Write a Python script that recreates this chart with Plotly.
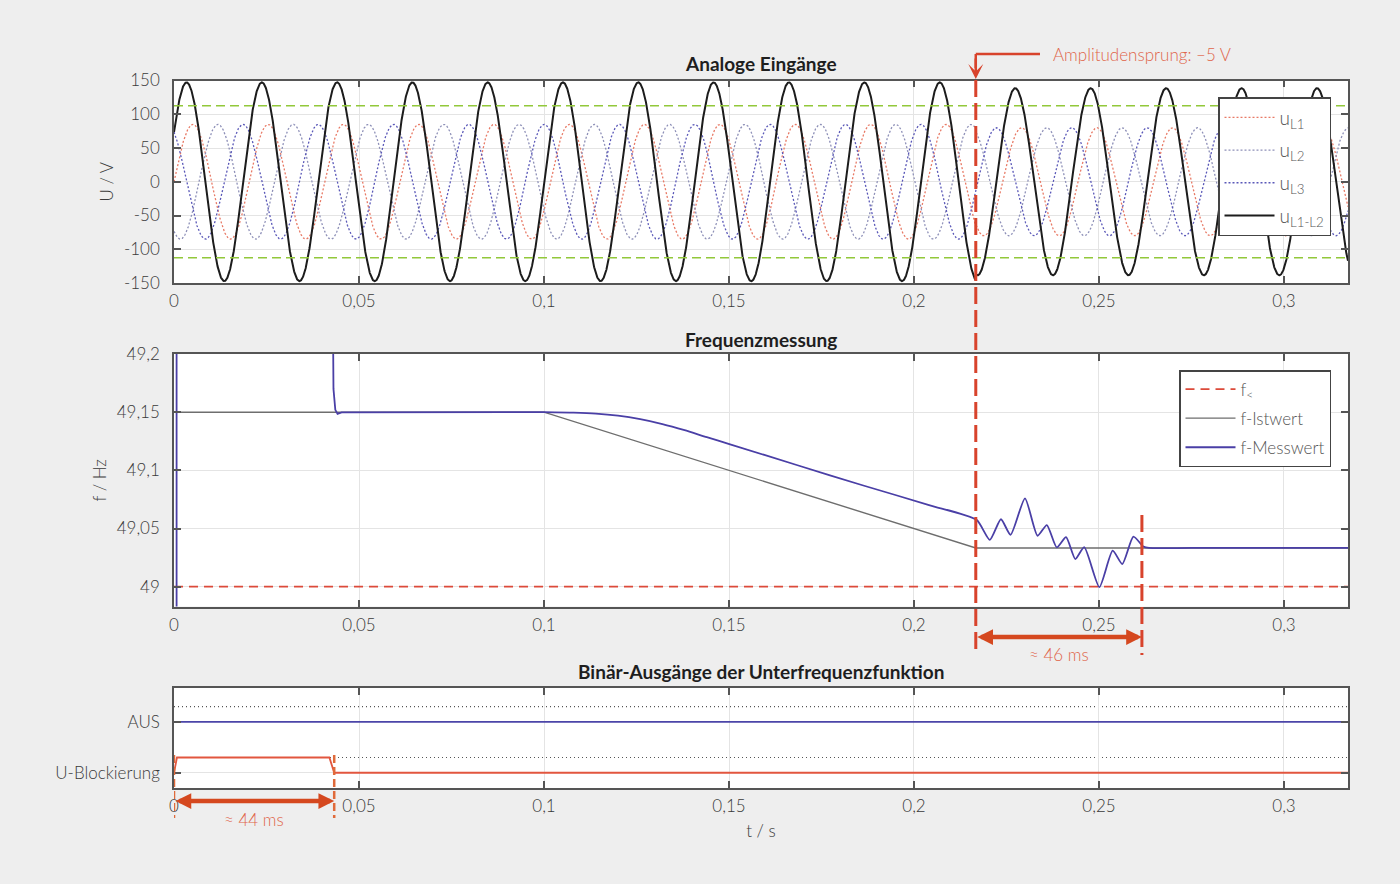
import numpy as np
import plotly.graph_objects as go

# ---------------- data ----------------
T_END = 0.3173
x_tickvals = [0, 0.05, 0.1, 0.15, 0.2, 0.25, 0.3]
x_ticktext = ["0", "0,05", "0,1", "0,15", "0,2", "0,25", "0,3"]

u_tickvals = [150, 100, 50, 0, -50, -100, -150]
u_ticktext = ["150", "100", "50", "0", "-50", "-100", "-150"]

f_tickvals = [49.2, 49.15, 49.1, 49.05, 49.0]
f_ticktext = ["49,2", "49,15", "49,1", "49,05", "49"]

bin_tickvals = [1, 0]
bin_ticktext = ["AUS", "U-Blockierung"]

# true frequency (f-Istwert) breakpoints
f_ist_t = [0, 0.1, 0.2167, T_END]
f_ist_v = [49.15, 49.15, 49.0333, 49.0333]

# phase voltage amplitude before / after the amplitude step
jump_time = 0.2167
amp_before = 85.0
amp_after = 80.0
u_threshold = [112.5, -112.5]

# frequency limit f<
f_lim_t = [0, T_END]
f_lim_v = [49.0, 49.0]

f_mess_start_t = [0.0007, 0.0007, 0.0428, 0.0431, 0.0436, 0.0442, 0.0453, 0.1]
f_mess_start_v = [48.90, 49.30, 49.30, 49.17, 49.152, 49.1485, 49.1498, 49.15]
f_mess_t = [0.100, 0.108, 0.114, 0.120, 0.126, 0.132, 0.138, 0.144, 0.1503,
            0.1683, 0.1863, 0.2043, 0.2169,
            0.2205, 0.2235, 0.2261, 0.2300, 0.2334, 0.2359, 0.2386, 0.2411, 0.2436,
            0.2460, 0.2501, 0.2537, 0.2563, 0.2593, 0.2620, 0.2635, 0.275, T_END]
f_mess_v = [49.1500, 49.1496, 49.1488, 49.1470, 49.1440, 49.1398, 49.1345, 49.1285, 49.1224,
            49.1046, 49.0870, 49.0700, 49.0575,
            49.0403, 49.058, 49.0446, 49.076, 49.0438, 49.053, 49.0338, 49.0426, 49.0238,
            49.034, 48.9997, 49.031, 49.0195, 49.043, 49.0346, 49.0333, 49.0333, 49.0333]

# binary outputs
aus_t = [0, T_END]
aus_v = [1, 1]
ublk_t = [0, 0.0008, 0.0420, 0.0433, T_END]
ublk_v = [0, 0.3, 0.3, 0, 0]
bin_high_levels = [1.3, 0.3]

# annotation times
t_jump = 0.2167
t_settle = 0.2616
t_block_end = 0.0433

# ---------------- waveforms from the frequency profile ----------------
t = np.linspace(0, T_END, 6000)
f_t = np.interp(t, f_ist_t, f_ist_v)
phase = 2 * np.pi * np.concatenate([[0], np.cumsum(0.5 * (f_t[1:] + f_t[:-1]) * np.diff(t))])
amp = np.where(t < jump_time, amp_before, amp_after)
u1 = amp * np.sin(phase)
u2 = amp * np.sin(phase - 2 * np.pi / 3)
u3 = amp * np.sin(phase + 2 * np.pi / 3)
u12 = u1 - u2

# ---------------- layout helpers ----------------
W, H = 1400, 884
def py(p):
    return 1 - p / H
def px(p):
    return p / W

FONT = "Lato"
TXT = "#3a3a3a"
RED = "#d8432c"
RED_TXT = "#e0654a"
XDOM = [px(174), px(1348)]

fig = go.Figure()

# top panel
fig.add_trace(go.Scatter(x=t, y=u1, mode="lines", name="u<sub>L1</sub>",
                         line=dict(color="#e87a66", width=1.3, dash="2px,2px"),
                         xaxis="x", yaxis="y", legend="legend", legendgroup="a"))
fig.add_trace(go.Scatter(x=t, y=u2, mode="lines", name="u<sub>L2</sub>",
                         line=dict(color="#8e90b8", width=1.3, dash="2px,2px"),
                         xaxis="x", yaxis="y", legend="legend", legendgroup="b"))
fig.add_trace(go.Scatter(x=t, y=u3, mode="lines", name="u<sub>L3</sub>",
                         line=dict(color="#5a58b8", width=1.3, dash="2px,2px"),
                         xaxis="x", yaxis="y", legend="legend", legendgroup="c"))
fig.add_trace(go.Scatter(x=t, y=u12, mode="lines", name="u<sub>L1-L2</sub>",
                         line=dict(color="#1c1c1c", width=2),
                         xaxis="x", yaxis="y", legend="legend", legendgroup="d"))

# middle panel
fig.add_trace(go.Scatter(x=f_lim_t, y=f_lim_v, mode="lines", name="f<sub>&lt;</sub>",
                         line=dict(color="#dc4a3a", width=1.8, dash="9px,6px"),
                         xaxis="x2", yaxis="y2", legend="legend2", legendgroup="lim"))
fig.add_trace(go.Scatter(x=f_ist_t, y=f_ist_v, mode="lines", name="f-Istwert",
                         line=dict(color="#6e6e6e", width=1.4),
                         xaxis="x2", yaxis="y2", legend="legend2", legendgroup="ist"))
fig.add_trace(go.Scatter(x=f_mess_start_t, y=f_mess_start_v, mode="lines", name="f-Messwert",
                         line=dict(color="#4a3fa6", width=1.8), legendgroup="mess",
                         xaxis="x2", yaxis="y2", legend="legend2"))
fig.add_trace(go.Scatter(x=f_mess_t, y=f_mess_v, mode="lines", name="f-Messwert",
                         line=dict(color="#4a3fa6", width=1.8, shape="spline", smoothing=0.6),
                         legendgroup="mess", showlegend=False,
                         xaxis="x2", yaxis="y2", legend="legend2"))

# bottom panel
fig.add_trace(go.Scatter(x=aus_t, y=aus_v, mode="lines", name="AUS",
                         line=dict(color="#4b45a8", width=1.8), showlegend=False,
                         xaxis="x3", yaxis="y3"))
fig.add_trace(go.Scatter(x=ublk_t, y=ublk_v, mode="lines", name="U-Blockierung",
                         line=dict(color="#e2563f", width=1.8), showlegend=False,
                         xaxis="x3", yaxis="y3"))

axis_common = dict(showline=True, linecolor="#555555", linewidth=1.5, mirror="ticks",
                   ticks="inside", ticklen=7, tickwidth=1.5, tickcolor="#555555",
                   showgrid=True, gridcolor="#e4e4e4", gridwidth=1, zeroline=False,
                   automargin=False,
                   tickfont=dict(family=FONT, size=17, color=TXT, weight=300))

xcommon = dict(axis_common, range=[0, T_END], tickvals=x_tickvals, ticktext=x_ticktext,
               domain=XDOM, ticklabelstandoff=2)

TITLE_FONT = dict(family=FONT, size=17, color=TXT, weight=300)
LEG_FONT = dict(family=FONT, size=17, color="#555555", weight=300)

fig.update_layout(
    width=W, height=H,
    margin=dict(l=0, r=0, t=0, b=0, autoexpand=False),
    paper_bgcolor="#eeeeee", plot_bgcolor="#ffffff",
    font=dict(family=FONT, size=17, color=TXT, weight=300),
    xaxis=dict(xcommon, anchor="y"),
    xaxis2=dict(xcommon, anchor="y2", matches="x"),
    xaxis3=dict(xcommon, anchor="y3", matches="x",
                title=dict(text="t / s", standoff=10, font=TITLE_FONT)),
    yaxis=dict(axis_common, anchor="x", domain=[py(283), py(80.5)], range=[-150, 150],
               tickvals=u_tickvals, ticktext=u_ticktext, ticklabelstandoff=9,
               title=dict(text="U / V", standoff=6, font=TITLE_FONT)),
    yaxis2=dict(axis_common, anchor="x2", domain=[py(606.5), py(354)], range=[48.983, 49.2],
                tickvals=f_tickvals, ticktext=f_ticktext, ticklabelstandoff=9,
                title=dict(text="f / Hz", standoff=6, font=TITLE_FONT)),
    yaxis3=dict(axis_common, anchor="x3", domain=[py(788), py(688)], range=[-0.3, 1.667],
                tickvals=bin_tickvals, ticktext=bin_ticktext, ticklabelstandoff=9),
    legend=dict(x=px(1331), y=py(97), xanchor="right", yanchor="top",
                bgcolor="#ffffff", bordercolor="#444444", borderwidth=1.5,
                font=dict(LEG_FONT, size=19),
                tracegroupgap=5, itemwidth=50),
    legend2=dict(x=px(1331), y=py(370), xanchor="right", yanchor="top",
                 bgcolor="#ffffff", bordercolor="#444444", borderwidth=1.5,
                 font=LEG_FONT, tracegroupgap=4, itemwidth=50),
    showlegend=True,
)

# threshold lines (green) in top panel
for thr in u_threshold:
    fig.add_shape(type="line", xref="x", yref="y", x0=0, x1=T_END, y0=thr, y1=thr,
                  line=dict(color="#92c83a", width=1.5, dash="9px,5px"), layer="above")

# high-level dotted lines in bottom panel
for lv in bin_high_levels:
    fig.add_shape(type="line", xref="x3", yref="y3", x0=0, x1=T_END, y0=lv, y1=lv,
                  line=dict(color="#555555", width=1.2, dash="1px,3px"), layer="below")

# panel titles
for text, ypx in [("Analoge Eingänge", 64), ("Frequenzmessung", 339),
                  ("Binär-Ausgänge der Unterfrequenzfunktion", 671)]:
    fig.add_annotation(text=text, x=(XDOM[0] + XDOM[1]) / 2, y=py(ypx), xref="paper", yref="paper",
                       showarrow=False, xanchor="center", yanchor="middle",
                       font=dict(family=FONT, size=19, color="#1e1e1e", weight=700))

# amplitude jump marker
DASH = "17px,6px"
fig.add_shape(type="line", xref="x", yref="paper", x0=t_jump, x1=t_jump, y0=py(80), y1=py(655),
              line=dict(color=RED, width=3, dash=DASH))
fig.add_shape(type="line", xref="x", yref="paper", x0=t_jump, x1=(1040 - 174) / 3700, y0=py(54), y1=py(54),
              line=dict(color=RED, width=2.5))
fig.add_shape(type="line", xref="x", yref="paper", x0=t_jump, x1=t_jump, y0=py(54), y1=py(68),
              line=dict(color=RED, width=2.5))
fig.add_annotation(x=t_jump, y=py(79), xref="x", yref="paper", ax=0, ay=-22, axref="pixel", ayref="pixel",
                   text="", showarrow=True, arrowhead=3, arrowsize=1, arrowwidth=2.5, arrowcolor=RED)
fig.add_annotation(text="Amplitudensprung: \u20135 V", x=px(1051), y=py(54), xref="paper", yref="paper",
                   showarrow=False, xanchor="left", yanchor="middle",
                   font=dict(family=FONT, size=17, color=RED_TXT, weight=300))

# 46 ms marker
fig.add_shape(type="line", xref="x", yref="paper", x0=t_settle, x1=t_settle, y0=py(515), y1=py(655),
              line=dict(color=RED, width=3, dash=DASH))
fig.add_annotation(x=t_settle, y=py(637), xref="x", yref="paper", ax=t_jump, ay=0, axref="x", ayref="pixel",
                   text="", showarrow=True, arrowhead=2, arrowside="end+start", arrowsize=0.7,
                   arrowwidth=4.5, arrowcolor="#d5481f")
fig.add_annotation(text="\u2248 46 ms", x=(t_jump + t_settle) / 2, y=py(654), xref="x", yref="paper",
                   showarrow=False, xanchor="center", yanchor="middle",
                   font=dict(family=FONT, size=17, color=RED_TXT, weight=300))

# 44 ms marker
for tt in [0.0, t_block_end]:
    fig.add_shape(type="line", xref="x", yref="paper", x0=tt, x1=tt, y0=py(755), y1=py(818),
                  line=dict(color="#e06a3a", width=2.5, dash="8px,4px"))
fig.add_annotation(x=t_block_end, y=py(801), xref="x", yref="paper", ax=0.0, ay=0, axref="x", ayref="pixel",
                   text="", showarrow=True, arrowhead=2, arrowside="end+start", arrowsize=0.7,
                   arrowwidth=4.5, arrowcolor="#d5481f")
fig.add_annotation(text="\u2248 44 ms", x=t_block_end / 2, y=py(819), xref="x", yref="paper",
                   showarrow=False, xanchor="center", yanchor="middle",
                   font=dict(family=FONT, size=17, color=RED_TXT, weight=300))

fig.write_html("out.html")
